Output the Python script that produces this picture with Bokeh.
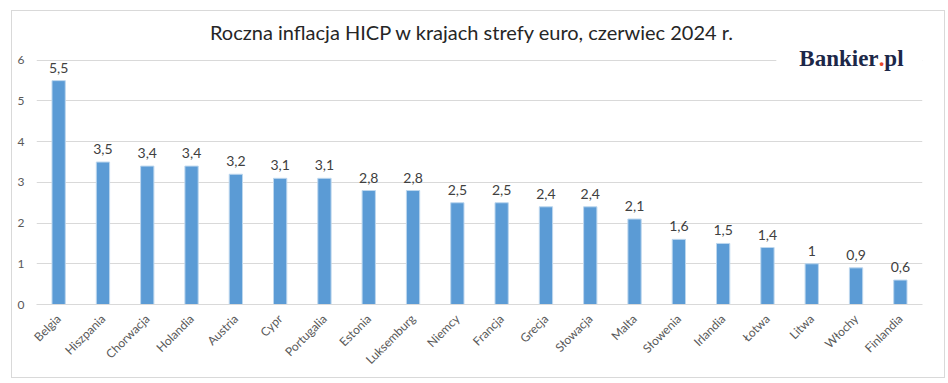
import math
from bokeh.plotting import figure
from bokeh.models import FactorRange, Range1d, Label, BoxAnnotation, FixedTicker
from bokeh.core.properties import value
from bokeh.embed import file_html
from bokeh.resources import INLINE

countries = ["Belgia", "Hiszpania", "Chorwacja", "Holandia", "Austria", "Cypr",
             "Portugalia", "Estonia", "Luksemburg", "Niemcy", "Francja", "Grecja",
             "Słowacja", "Malta", "Słowenia", "Irlandia", "Łotwa", "Litwa",
             "Włochy", "Finlandia"]
inflation = [5.5, 3.5, 3.4, 3.4, 3.2, 3.1, 3.1, 2.8, 2.8, 2.5, 2.5, 2.4, 2.4,
             2.1, 1.6, 1.5, 1.4, 1.0, 0.9, 0.6]
y_ticks = [0, 1, 2, 3, 4, 5, 6]
title_text = "Roczna inflacja HICP w krajach strefy euro, czerwiec 2024 r."

value_labels = [f"{v:g}".replace(".", ",") for v in inflation]

FONT = "Lato"

p = figure(x_range=FactorRange(factors=countries), y_range=Range1d(0, 7.1),
           width=932, height=366, output_backend="svg", toolbar_location=None,
           min_border_left=24, min_border_right=22, min_border_top=4,
           min_border_bottom=73)
p.styles = {"margin-left": "12px", "margin-top": "11px",
            "outline": "1px solid #D9D9D9"}
p.outline_line_color = None
p.background_fill_color = "white"
p.border_fill_color = "white"

p.vbar(x=countries, top=inflation, width=0.3, fill_color="#5B9BD5",
       line_color="#BDD7EE", line_width=1)

p.text(x=countries, y=inflation, text=value_labels, text_align="center",
       text_baseline="alphabetic", y_offset=-13, text_font_size="14px",
       text_color="#404040", text_font=value(FONT))

p.xgrid.grid_line_color = None
p.ygrid.grid_line_color = "#D9D9D9"
p.ygrid.ticker = FixedTicker(ticks=y_ticks)

p.yaxis.ticker = FixedTicker(ticks=y_ticks)
p.yaxis.axis_line_color = None
p.yaxis.major_tick_line_color = None
p.yaxis.minor_tick_line_color = None
p.yaxis.major_tick_out = 0
p.yaxis.minor_tick_out = 0
p.yaxis.major_label_standoff = 12
p.yaxis.major_label_text_font_size = "12px"
p.yaxis.major_label_text_color = "#595959"
p.yaxis.major_label_text_font = FONT

p.xaxis.axis_line_color = "#D9D9D9"
p.xaxis.major_tick_line_color = None
p.xaxis.minor_tick_line_color = None
p.xaxis.major_tick_out = 0
p.xaxis.minor_tick_out = 0
p.xaxis.major_label_orientation = math.pi / 4
p.xaxis.major_label_standoff = 12
p.xaxis.major_label_text_font_size = "12px"
p.xaxis.major_label_text_color = "#595959"
p.xaxis.major_label_text_font = FONT

# title
p.add_layout(Label(x=9.84, y=6.69, text=title_text, text_align="center",
                   text_baseline="alphabetic", text_font_size="20px",
                   text_color="#262626", text_font=FONT))

# logo
p.add_layout(BoxAnnotation(left=16.7, right=20, bottom=5.5, top=6.4,
                           fill_color="white", fill_alpha=1, line_color=None))
logo_kw = dict(x=17.22, y=6.05, text_baseline="alphabetic", text_font_size="23px",
               text_font="Liberation Serif", text_font_style="bold",
               text_align="left")
p.add_layout(Label(text="Bankier", text_color="#1C2748", **logo_kw))
p.add_layout(Label(text=".", text_color="#E8482B", x_offset=79.5, **logo_kw))
p.add_layout(Label(text="pl", text_color="#1C2748", x_offset=85, **logo_kw))

open("out.html", "w").write(file_html(p, INLINE))
